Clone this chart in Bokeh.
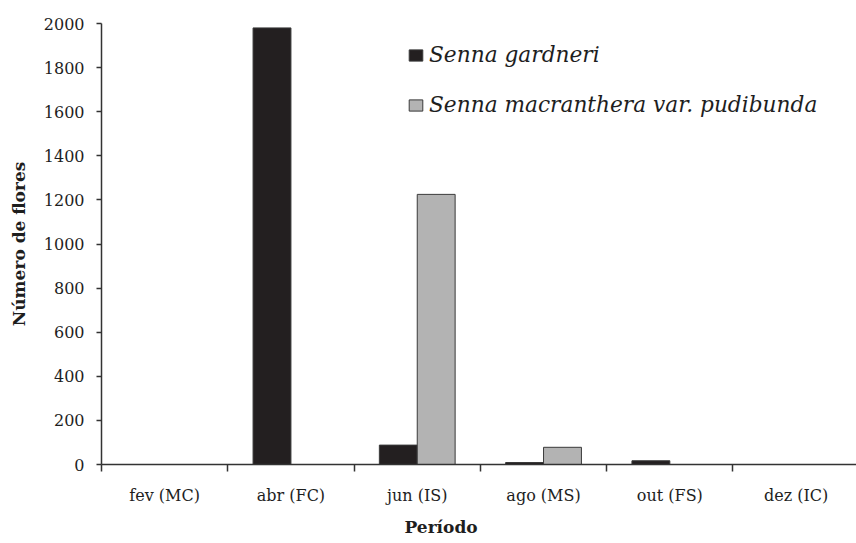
import numpy as np
from bokeh.plotting import figure
from bokeh.models import Range1d, FixedTicker, SingleIntervalTicker, Legend, LegendItem, Title
from bokeh.embed import file_html
from bokeh.resources import INLINE

categories = ["fev (MC)", "abr (FC)", "jun (IS)", "ago (MS)", "out (FS)", "dez (IC)"]
senna_gardneri = [0, 1980, 88, 9, 17, 0]
senna_macranthera = [0, 0, 1225, 78, 0, 0]
series_names = ["Senna gardneri", "Senna macranthera var. pudibunda"]

idx = np.arange(len(categories))
centers = idx + 0.5

p = figure(width=856, height=543, output_backend="svg", toolbar_location=None,
           x_range=Range1d(0, 5.978), y_range=Range1d(0, 2000),
           min_border_left=101, min_border_right=0, min_border_top=23, min_border_bottom=79)
p.outline_line_color = None
p.grid.visible = False
p.background_fill_color = "white"
p.border_fill_color = "white"

r1 = p.vbar(x=centers - 0.15, top=senna_gardneri, width=0.3, bottom=0,
            fill_color="#231f20", line_color="#3a3a3a", line_width=1)
r2 = p.vbar(x=centers + 0.15, top=senna_macranthera, width=0.3, bottom=0,
            fill_color="#b3b3b3", line_color="#3a3a3a", line_width=1)

serif = "DejaVu Serif"
axcol = "#333333"
txtcol = "#1e1e1e"

xa = p.xaxis[0]
xa.ticker = FixedTicker(ticks=list(centers), minor_ticks=list(np.arange(len(categories) + 1)))
xa.major_label_overrides = {float(c): lab for c, lab in zip(centers, categories)}
xa.major_tick_out = 0
xa.major_tick_in = 0
xa.minor_tick_out = 7
xa.minor_tick_in = 0
xa.minor_tick_line_color = axcol
xa.minor_tick_line_width = 1.5
xa.axis_line_color = axcol
xa.axis_line_width = 1.5
xa.major_label_text_font = serif
xa.major_label_text_font_size = "16px"
xa.major_label_text_color = txtcol
xa.major_label_standoff = 14

ya = p.yaxis[0]
ya.ticker = SingleIntervalTicker(interval=200, num_minor_ticks=0)
ya.major_tick_out = 5
ya.major_tick_in = 0
ya.minor_tick_out = 0
ya.minor_tick_in = 0
ya.major_tick_line_color = axcol
ya.major_tick_line_width = 1.5
ya.axis_line_color = axcol
ya.axis_line_width = 1.5
ya.major_label_text_font = serif
ya.major_label_text_font_size = "16px"
ya.major_label_text_color = txtcol
ya.major_label_standoff = 12
ya.axis_label = "Número de flores"
ya.axis_label_text_font = serif
ya.axis_label_text_font_style = "bold"
ya.axis_label_text_font_size = "17px"
ya.axis_label_text_color = txtcol
ya.axis_label_standoff = 12

xtitle = Title(text="Período", align="left", offset=303, standoff=14,
               text_font=serif, text_font_style="bold", text_font_size="17px",
               text_color=txtcol)
p.add_layout(xtitle, "below")

legend = Legend(items=[LegendItem(label=series_names[0], renderers=[r1]),
                       LegendItem(label=series_names[1], renderers=[r2])],
                location=(306, 347), orientation="vertical",
                glyph_width=17, glyph_height=14, label_height=14,
                label_standoff=5, spacing=25, padding=0, margin=0,
                border_line_color=None, background_fill_alpha=0,
                label_text_font=serif, label_text_font_style="italic",
                label_text_font_size="21.7px", label_text_color=txtcol)
p.add_layout(legend)

open("out.html", "w").write(file_html(p, INLINE))
